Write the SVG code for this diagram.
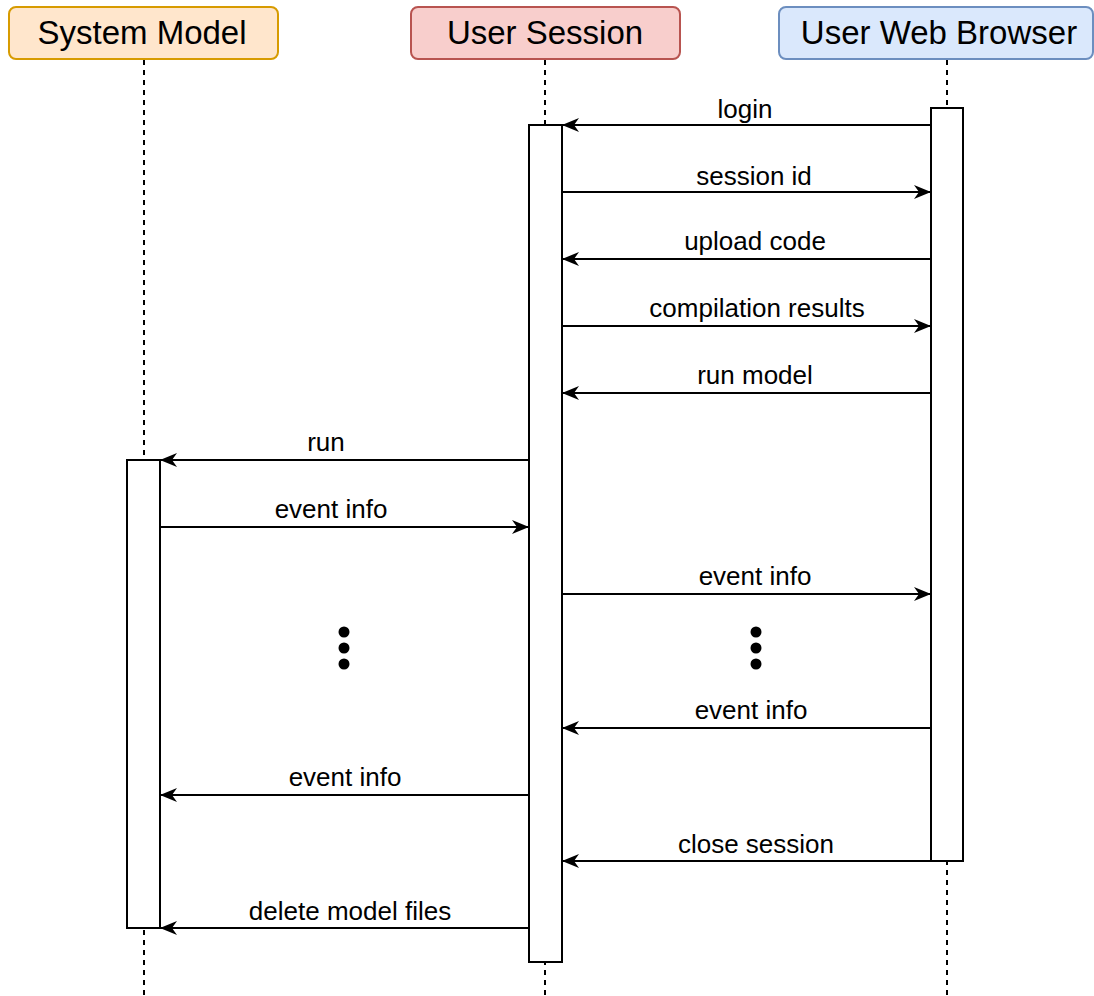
<svg xmlns="http://www.w3.org/2000/svg" width="1094" height="996" viewBox="0 0 1094 996">
  <style>
    .hdr { stroke-width: 2; }
    .hdr-text { font-family: "Liberation Sans", Arial, sans-serif; font-size: 33px; fill: #000; text-anchor: middle; }
    .life { stroke: #000; stroke-width: 2; stroke-dasharray: 5 5; fill: none; }
    .act { fill: #fff; stroke: #000; stroke-width: 2; }
    .msg { stroke: #000; stroke-width: 2; fill: none; marker-end: url(#head); }
    .lbl { font-family: "Liberation Sans", Arial, sans-serif; font-size: 26px; fill: #000; text-anchor: middle; }
    .dot { fill: #000; }
  </style>
  <defs>
    <!-- classic notched arrowhead, sized in user units -->
    <marker id="head" markerUnits="userSpaceOnUse" markerWidth="18" markerHeight="16" viewBox="0 0 18 16" refX="17" refY="8" orient="auto" overflow="visible">
      <path d="M0,1 L17,8 L0,15 L5,8 z" fill="#000"/>
    </marker>
  </defs>
  <rect width="1094" height="996" fill="#fff"/>

  <!-- lifelines -->
  <g id="lifelines">
    <line class="life" x1="144" y1="60" x2="144" y2="996"/>
    <line class="life" x1="545" y1="60" x2="545" y2="996"/>
    <line class="life" x1="947" y1="60" x2="947" y2="996"/>
  </g>

  <!-- participants -->
  <g id="system-model">
    <rect class="hdr" x="9" y="7" width="269" height="52" rx="7" fill="#ffe6cc" stroke="#d79b00"/>
    <text class="hdr-text" x="142" y="44">System Model</text>
    <rect class="act" x="127" y="460" width="33" height="468"/>
  </g>
  <g id="user-session">
    <rect class="hdr" x="411" y="7" width="269" height="52" rx="7" fill="#f8cecc" stroke="#b85450"/>
    <text class="hdr-text" x="545" y="44">User Session</text>
    <rect class="act" x="529" y="125" width="33" height="837"/>
  </g>
  <g id="user-web-browser">
    <rect class="hdr" x="779" y="7" width="314" height="52" rx="7" fill="#dae8fc" stroke="#6c8ebf"/>
    <text class="hdr-text" x="939" y="44">User Web Browser</text>
    <rect class="act" x="931" y="108" width="32" height="753"/>
  </g>

  <!-- messages -->
  <g id="connectors">
    <line class="msg" x1="931" y1="125" x2="562" y2="125"/>
    <line class="msg" x1="562" y1="192" x2="931" y2="192"/>
    <line class="msg" x1="931" y1="259" x2="562" y2="259"/>
    <line class="msg" x1="562" y1="326" x2="931" y2="326"/>
    <line class="msg" x1="931" y1="393" x2="562" y2="393"/>
    <line class="msg" x1="529" y1="460" x2="160" y2="460"/>
    <line class="msg" x1="160" y1="527" x2="529" y2="527"/>
    <line class="msg" x1="562" y1="594" x2="931" y2="594"/>
    <line class="msg" x1="931" y1="728" x2="562" y2="728"/>
    <line class="msg" x1="529" y1="795" x2="160" y2="795"/>
    <line class="msg" x1="931" y1="861" x2="562" y2="861"/>
    <line class="msg" x1="529" y1="928" x2="160" y2="928"/>
  </g>

  <!-- message labels -->
  <g id="labels">
    <text class="lbl" x="745" y="118">login</text>
    <text class="lbl" x="754" y="185">session id</text>
    <text class="lbl" x="755" y="250">upload code</text>
    <text class="lbl" x="757" y="317">compilation results</text>
    <text class="lbl" x="755" y="384">run model</text>
    <text class="lbl" x="326" y="451">run</text>
    <text class="lbl" x="331" y="518">event info</text>
    <text class="lbl" x="755" y="585">event info</text>
    <text class="lbl" x="751" y="719">event info</text>
    <text class="lbl" x="345" y="786">event info</text>
    <text class="lbl" x="756" y="853">close session</text>
    <text class="lbl" x="350" y="920">delete model files</text>
  </g>

  <!-- continuation ellipses -->
  <g id="ellipsis-left">
    <circle class="dot" cx="344" cy="632" r="5.5"/>
    <circle class="dot" cx="344" cy="648" r="5.5"/>
    <circle class="dot" cx="344" cy="664" r="5.5"/>
  </g>
  <g id="ellipsis-right">
    <circle class="dot" cx="756" cy="632" r="5.5"/>
    <circle class="dot" cx="756" cy="648" r="5.5"/>
    <circle class="dot" cx="756" cy="664" r="5.5"/>
  </g>
</svg>
